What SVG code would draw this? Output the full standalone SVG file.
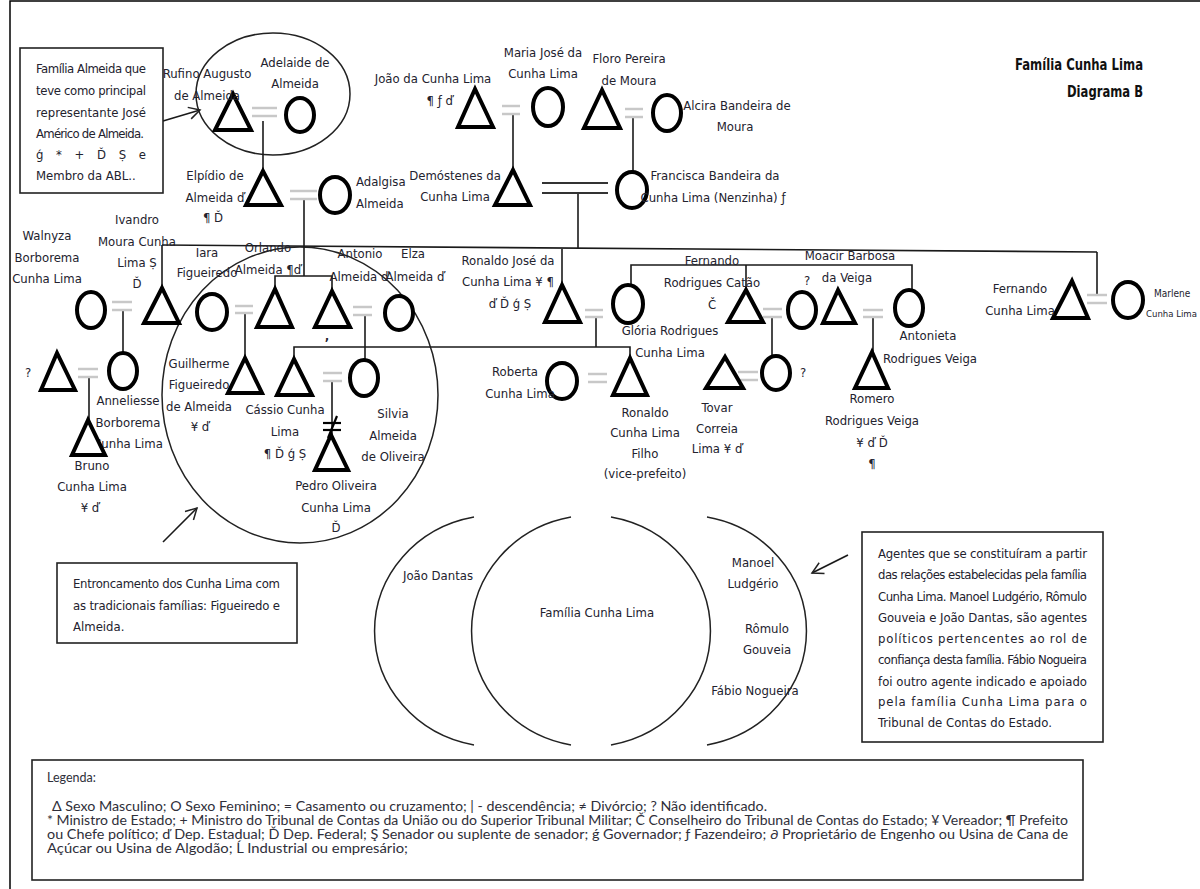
<svg xmlns="http://www.w3.org/2000/svg" width="1200" height="889" viewBox="0 0 1200 889">
<style>
.t{font-family:'Liberation Sans Narrow','DejaVu Sans Condensed','Liberation Sans',sans-serif;font-stretch:condensed;font-size:13px;fill:#23222e;text-anchor:middle}
.s{text-anchor:start}
.e{text-anchor:end}
.ttl{font-family:'Liberation Sans Narrow','DejaVu Sans Condensed','Liberation Sans',sans-serif;font-stretch:condensed;font-size:15px;font-weight:bold;fill:#111;text-anchor:end}
.lg{font-family:Lato,'Open Sans','Liberation Sans',sans-serif;font-size:12.5px;fill:#2f2f3a}
.m{fill:#fff;stroke:#000;stroke-width:4;stroke-linejoin:miter}
.f{fill:#fff;stroke:#000;stroke-width:4}
.eq{stroke:#c8c8c8;stroke-width:2.5}
.ln{stroke:#1a1a1a;stroke-width:1.6;fill:none}
.big{stroke:#222;stroke-width:1.5;fill:none}
.box{fill:#fff;stroke:#222;stroke-width:1.6}
</style>
<defs>
<marker id="arr" markerUnits="userSpaceOnUse" markerWidth="14" markerHeight="14" refX="12" refY="7" orient="auto">
<path d="M1,1 L12,7 L1,13" fill="none" stroke="#222" stroke-width="1.5"/>
</marker>
</defs>
<rect width="1200" height="889" fill="#fff"/>
<path d="M10,889 V1 H1200" fill="none" stroke="#000" stroke-width="1.5"/>

<!-- big enclosing shapes -->
<g id="circles">
<ellipse cx="273" cy="94" rx="77" ry="61" class="big"/>
<ellipse cx="300" cy="395" rx="138" ry="148" class="big"/>
<path d="M474,517 A122,116 0 0 0 474,745" class="big"/>
<path d="M571,517 A122,116 0 0 0 571,745" class="big"/>
<path d="M611,517 A122,116 0 0 1 611,745" class="big"/>
<path d="M707,517 A122,116 0 0 1 707,745" class="big"/>
</g>

<!-- connectors -->
<g id="connectors">
<line x1="263" y1="121" x2="263" y2="171" class="ln"/>
<line x1="513" y1="115" x2="513" y2="170" class="ln"/>
<line x1="633" y1="117" x2="633" y2="172" class="ln"/>
<line x1="578" y1="193" x2="578" y2="248" class="ln"/>
<polyline points="304,199 304,276" class="ln"/>
<polyline points="275,289 275,276 332,276 332,291" class="ln"/>
<line x1="162" y1="245" x2="1097" y2="252" class="ln"/>
<line x1="162" y1="245" x2="162" y2="288" class="ln"/>
<line x1="1097" y1="252" x2="1097" y2="295" class="ln"/>
<line x1="562" y1="249" x2="562" y2="285" class="ln"/>
<line x1="123" y1="310" x2="123" y2="353" class="ln"/>
<line x1="89" y1="377" x2="89" y2="420" class="ln"/>
<line x1="245" y1="313" x2="245" y2="358" class="ln"/>
<line x1="365" y1="315" x2="365" y2="360" class="ln"/>
<line x1="596" y1="317" x2="596" y2="347" class="ln"/>
<polyline points="294,359 294,347 630,347 630,358" class="ln"/>
<line x1="332" y1="382" x2="332" y2="435" class="ln"/>
<g stroke="#000" stroke-width="2.2">
<line x1="323" y1="423" x2="341" y2="423"/>
<line x1="323" y1="430" x2="341" y2="430"/>
<line x1="337" y1="416" x2="328" y2="438"/>
</g>
<polyline points="631,285 631,265 912,265 912,290" class="ln"/>
<line x1="746" y1="265" x2="746" y2="290" class="ln"/>
<line x1="772" y1="317" x2="772" y2="357" class="ln"/>
<line x1="873" y1="317" x2="873" y2="352" class="ln"/>
<!-- marriages -->
<g class="eq">
<line x1="252" y1="108" x2="277" y2="108"/><line x1="252" y1="116" x2="277" y2="116"/>
<line x1="290" y1="191" x2="317" y2="191"/><line x1="290" y1="199" x2="317" y2="199"/>
<line x1="502" y1="106" x2="520" y2="106"/><line x1="502" y1="114" x2="520" y2="114"/>
<line x1="625" y1="109" x2="643" y2="109"/><line x1="625" y1="117" x2="643" y2="117"/>
<line x1="112" y1="302" x2="132" y2="302"/><line x1="112" y1="310" x2="132" y2="310"/>
<line x1="78" y1="369" x2="98" y2="369"/><line x1="78" y1="377" x2="98" y2="377"/>
<line x1="235" y1="306" x2="253" y2="306"/><line x1="235" y1="313" x2="253" y2="313"/>
<line x1="353" y1="307" x2="372" y2="307"/><line x1="353" y1="315" x2="372" y2="315"/>
<line x1="323" y1="373" x2="342" y2="373"/><line x1="323" y1="381" x2="342" y2="381"/>
<line x1="585" y1="310" x2="603" y2="310"/><line x1="585" y1="317" x2="603" y2="317"/>
<line x1="763" y1="309" x2="782" y2="309"/><line x1="763" y1="317" x2="782" y2="317"/>
<line x1="863" y1="310" x2="883" y2="310"/><line x1="863" y1="317" x2="883" y2="317"/>
<line x1="588" y1="374" x2="607" y2="374"/><line x1="588" y1="382" x2="607" y2="382"/>
<line x1="738" y1="372" x2="758" y2="372"/><line x1="738" y1="380" x2="758" y2="380"/>
<line x1="1087" y1="295" x2="1107" y2="295"/><line x1="1087" y1="303" x2="1107" y2="303"/>
</g>
<g stroke="#333" stroke-width="2">
<line x1="542" y1="183" x2="608" y2="183"/><line x1="542" y1="193" x2="608" y2="193"/>
</g>
<line x1="163" y1="121" x2="200" y2="110" class="ln" marker-end="url(#arr)"/>
<line x1="163" y1="542" x2="197" y2="508" class="ln" marker-end="url(#arr)"/>
<line x1="848" y1="555" x2="812" y2="573" class="ln" marker-end="url(#arr)"/>
</g>

<!-- nodes -->
<g id="rufino"><polygon points="233,94 215,130 251,130" class="m"/><text class="t" x="207" y="78">Rufino Augusto</text><text class="t" x="207" y="100">de Almeida</text></g>
<g id="adelaide"><ellipse cx="300" cy="115" rx="14" ry="17" class="f"/><text class="t" x="295" y="67">Adelaide de</text><text class="t" x="295" y="88">Almeida</text></g>
<g id="elpidio"><polygon points="263,171 246,205 281,205" class="m"/><text class="t" x="215" y="180">Elpídio de</text><text class="t" x="215" y="202">Almeida ď</text><text class="t" x="213" y="222">¶ Ď</text></g>
<g id="adalgisa"><ellipse cx="335" cy="195" rx="15" ry="18" class="f"/><text class="t s" x="356" y="186">Adalgisa</text><text class="t s" x="356" y="208">Almeida</text></g>
<g id="joao"><polygon points="475,89 458,127 493,127" class="m"/><text class="t" x="433" y="83">João da Cunha Lima</text><text class="t e" x="453" y="105">¶ ƒ ď</text></g>
<g id="mariajose"><ellipse cx="548" cy="107" rx="15" ry="19" class="f"/><text class="t" x="543" y="57">Maria José da</text><text class="t" x="543" y="78">Cunha  Lima</text></g>
<g id="floro"><polygon points="602,90 584,128 620,128" class="m"/><text class="t" x="629" y="63">Floro Pereira</text><text class="t" x="629" y="85">de Moura</text></g>
<g id="alcira"><ellipse cx="667" cy="113" rx="14" ry="18" class="f"/><text class="t" x="737" y="110">Alcira Bandeira de</text><text class="t" x="735" y="131">Moura</text></g>
<g id="demostenes"><polygon points="513,170 495,205 530,205" class="m"/><text class="t" x="455" y="180">Demóstenes da</text><text class="t" x="455" y="201">Cunha Lima</text></g>
<g id="francisca"><ellipse cx="632" cy="190" rx="15" ry="18" class="f"/><text class="t" x="715" y="180">Francisca Bandeira da</text><text class="t" x="713" y="202">Cunha Lima (Nenzinha)  ƒ</text></g>
<g id="walnyza"><ellipse cx="91" cy="310" rx="14" ry="18" class="f"/><text class="t" x="47" y="240">Walnyza</text><text class="t" x="47" y="262">Borborema</text><text class="t" x="47" y="283">Cunha Lima</text></g>
<g id="ivandro"><polygon points="162,288 144,323 179,323" class="m"/><text class="t" x="137" y="224">Ivandro</text><text class="t" x="137" y="246">Moura Cunha</text><text class="t" x="137" y="267">Lima Ṣ</text><text class="t" x="137" y="288">Ď</text></g>
<g id="anon1"><polygon points="57,353 41,390 75,390" class="m"/><text class="t" x="28" y="377">?</text></g>
<g id="anneliesse"><ellipse cx="123" cy="371" rx="14" ry="18" class="f"/><text class="t" x="128" y="405">Anneliesse</text><text class="t" x="128" y="427">Borborema</text><text class="t" x="128" y="448">Cunha Lima</text></g>
<g id="bruno"><polygon points="88,420 72,455 105,455" class="m"/><text class="t" x="92" y="470">Bruno</text><text class="t" x="92" y="491">Cunha Lima</text><text class="t" x="90" y="512">¥ ď</text></g>
<g id="iara"><ellipse cx="212" cy="312" rx="15" ry="18" class="f"/><text class="t" x="207" y="257">Iara</text><text class="t" x="207" y="277">Figueiredo</text></g>
<g id="orlando"><polygon points="275,289 257,327 292,327" class="m"/><text class="t" x="268" y="252">Orlando</text><text class="t" x="268" y="274">Almeida ¶ď</text></g>
<g id="antonio"><polygon points="332,291 315,327 350,327" class="m"/><text class="t" x="360" y="258">Antonio</text><text class="t" x="359" y="281">Almeida ď</text><text class="t" x="327" y="347" style="font-weight:bold">ʼ</text></g>
<g id="elza"><ellipse cx="399" cy="313" rx="14" ry="17" class="f"/><text class="t" x="413" y="258">Elza</text><text class="t" x="415" y="281">Almeida ď</text></g>
<g id="guilherme"><polygon points="245,358 228,393 262,393" class="m"/><text class="t" x="199" y="368">Guilherme</text><text class="t" x="199" y="389">Figueiredo</text><text class="t" x="199" y="411">de Almeida</text><text class="t" x="200" y="431">¥ ď</text></g>
<g id="cassio"><polygon points="294,359 277,395 312,395" class="m"/><text class="t" x="285" y="414">Cássio Cunha</text><text class="t" x="285" y="436">Lima</text><text class="t" x="285" y="458">¶ Ď ǵ Ṣ</text></g>
<g id="silvia"><ellipse cx="364" cy="378" rx="14" ry="18" class="f"/><text class="t" x="393" y="418">Silvia</text><text class="t" x="393" y="440">Almeida</text><text class="t" x="393" y="461">de Oliveira</text></g>
<g id="pedro"><polygon points="331,435 315,470 348,470" class="m"/><text class="t" x="336" y="490">Pedro Oliveira</text><text class="t" x="336" y="512">Cunha Lima</text><text class="t" x="336" y="532">Ď</text></g>
<g id="ronaldojose"><polygon points="562,285 545,322 580,322" class="m"/><text class="t" x="508" y="265">Ronaldo José da</text><text class="t" x="508" y="286">Cunha Lima ¥ ¶</text><text class="t" x="510" y="308">ď Ď ǵ Ṣ</text></g>
<g id="gloria"><ellipse cx="628" cy="304" rx="15" ry="19" class="f"/><text class="t" x="670" y="335">Glória Rodrigues</text><text class="t" x="670" y="357">Cunha Lima</text></g>
<g id="fernandocatao"><polygon points="746,290 728,322 763,322" class="m"/><text class="t" x="712" y="265">Fernando</text><text class="t" x="712" y="287">Rodrigues Catão</text><text class="t" x="712" y="309">Č</text></g>
<g id="anon2"><ellipse cx="802" cy="310" rx="14" ry="18" class="f"/><text class="t" x="807" y="285">?</text></g>
<g id="moacir"><polygon points="838,290 823,323 855,323" class="m"/><text class="t" x="850" y="260">Moacir Barbosa</text><text class="t" x="847" y="282">da Veiga</text></g>
<g id="antonieta"><ellipse cx="909" cy="308" rx="14" ry="18" class="f"/><text class="t" x="928" y="340">Antonieta</text><text class="t" x="930" y="363">Rodrigues Veiga</text></g>
<g id="roberta"><ellipse cx="562" cy="381" rx="15" ry="18" class="f"/><text class="t" x="515" y="376">Roberta</text><text class="t" x="520" y="398">Cunha Lima</text></g>
<g id="ronaldofilho"><polygon points="630,358 613,395 647,395" class="m"/><text class="t" x="645" y="417">Ronaldo</text><text class="t" x="645" y="437">Cunha Lima</text><text class="t" x="645" y="458">Filho</text><text class="t" x="645" y="478">(vice-prefeito)</text></g>
<g id="tovar"><polygon points="725,357 706,388 743,388" class="m"/><text class="t" x="717" y="412">Tovar</text><text class="t" x="717" y="433">Correia</text><text class="t" x="717" y="453">Lima ¥ ď</text></g>
<g id="anon3"><ellipse cx="776" cy="373" rx="14" ry="17" class="f"/><text class="t" x="803" y="377">?</text></g>
<g id="romero"><polygon points="872,352 855,388 888,388" class="m"/><text class="t" x="872" y="403">Romero</text><text class="t" x="872" y="425">Rodrigues Veiga</text><text class="t" x="872" y="447">¥ ď Ď</text><text class="t" x="872" y="468">¶</text></g>
<g id="fernandocl"><polygon points="1072,281 1053,318 1088,318" class="m"/><text class="t" x="1020" y="293">Fernando</text><text class="t" x="1020" y="315">Cunha Lima</text></g>
<g id="marlene"><ellipse cx="1128" cy="300" rx="15" ry="18" class="f"/><text class="t s" x="1154" y="297" style="font-size:10px">Marlene</text><text class="t s" x="1146" y="317" style="font-size:9.5px">Cunha Lima</text></g>

<!-- agent circles labels -->
<g id="agentes">
<text class="t" x="438" y="580">João Dantas</text>
<text class="t" x="597" y="617">Família Cunha Lima</text>
<text class="t" x="753" y="567">Manoel</text>
<text class="t" x="753" y="588">Ludgério</text>
<text class="t" x="767" y="633">Rômulo</text>
<text class="t" x="767" y="654">Gouveia</text>
<text class="t" x="755" y="695">Fábio Nogueira</text>
</g>

<!-- title -->
<g id="title">
<text class="ttl" x="1143" y="70" textLength="128" lengthAdjust="spacingAndGlyphs">Família Cunha Lima</text>
<text class="ttl" x="1143" y="97" textLength="76" lengthAdjust="spacingAndGlyphs">Diagrama B</text>
</g>

<!-- note boxes -->
<g id="note-almeida">
<rect x="20" y="48" width="143" height="145" class="box"/>
<text class="t s" x="36" y="73" textLength="110" lengthAdjust="spacing">Família Almeida que</text>
<text class="t s" x="36" y="95" textLength="110" lengthAdjust="spacing">teve como principal</text>
<text class="t s" x="36" y="117" textLength="110" lengthAdjust="spacing">representante José</text>
<text class="t s" x="36" y="138" textLength="108" lengthAdjust="spacing">Américo de Almeida.</text>
<text class="t s" x="36" y="159" textLength="110" lengthAdjust="spacing">ǵ * + Ď Ṣ e</text>
<text class="t s" x="36" y="180">Membro da ABL..</text>
</g>
<g id="note-entroncamento">
<rect x="57" y="563" width="240" height="80" class="box"/>
<text class="t s" x="73" y="588" textLength="207" lengthAdjust="spacing">Entroncamento dos Cunha Lima com</text>
<text class="t s" x="73" y="610" textLength="207" lengthAdjust="spacing">as tradicionais  famílias: Figueiredo e</text>
<text class="t s" x="73" y="631">Almeida.</text>
</g>
<g id="note-agentes">
<rect x="862" y="532" width="241" height="210" class="box"/>
<text class="t s" x="878" y="558" textLength="209" lengthAdjust="spacing">Agentes que se constituíram a partir</text>
<text class="t s" x="878" y="579" textLength="209" lengthAdjust="spacing">das relações estabelecidas pela família</text>
<text class="t s" x="878" y="601" textLength="209" lengthAdjust="spacing">Cunha Lima. Manoel Ludgério, Rômulo</text>
<text class="t s" x="878" y="622" textLength="209" lengthAdjust="spacing">Gouveia e João Dantas, são agentes</text>
<text class="t s" x="878" y="643" textLength="209" lengthAdjust="spacing">políticos pertencentes ao rol de</text>
<text class="t s" x="878" y="664" textLength="209" lengthAdjust="spacing">confiança desta família. Fábio Nogueira</text>
<text class="t s" x="878" y="686" textLength="209" lengthAdjust="spacing">foi outro agente indicado e apoiado</text>
<text class="t s" x="878" y="706" textLength="209" lengthAdjust="spacing">pela família Cunha Lima para o</text>
<text class="t s" x="878" y="727">Tribunal de Contas do Estado.</text>
</g>

<!-- legend -->
<g id="legend">
<rect x="32" y="760" width="1051" height="120" class="box"/>
<text class="lg" x="47" y="782">Legenda:</text>
<text class="lg" x="52" y="811" textLength="715" lengthAdjust="spacingAndGlyphs">Δ  Sexo Masculino; O  Sexo Feminino;  = Casamento ou cruzamento;  | - descendência;  ≠ Divórcio; ? Não identificado.</text>
<text class="lg" x="47" y="825" textLength="1021" lengthAdjust="spacingAndGlyphs">* Ministro de Estado;  + Ministro do Tribunal de Contas da União ou do Superior Tribunal Militar; Č Conselheiro do Tribunal de Contas do Estado; ¥ Vereador; ¶ Prefeito</text>
<text class="lg" x="47" y="839" textLength="1021" lengthAdjust="spacingAndGlyphs">ou Chefe político; ď Dep. Estadual; Ď Dep. Federal; Ş Senador ou suplente de senador; ǵ Governador; ƒ Fazendeiro;  ∂ Proprietário de Engenho ou Usina de Cana de</text>
<text class="lg" x="47" y="853" textLength="361" lengthAdjust="spacingAndGlyphs">Açúcar ou Usina de Algodão; Ĺ Industrial ou empresário;</text>
</g>
</svg>
